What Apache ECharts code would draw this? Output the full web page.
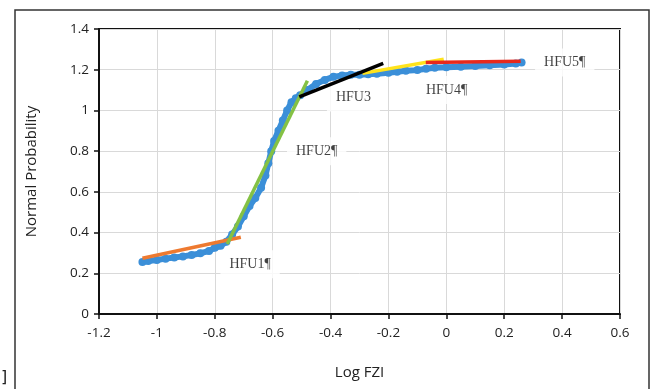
<!DOCTYPE html>
<html>
<head>
<meta charset="utf-8">
<script src="https://cdn.jsdelivr.net/npm/echarts@6/dist/echarts.min.js"></script>
<style>
  html, body { margin: 0; padding: 0; background: #fff; }
  #chart { width: 654px; height: 389px; }
</style>
</head>
<body>
<div id="chart"></div>
<script>
// measured points (Log FZI vs normal probability)
const curveX = [-1.05, -1.03, -1.0, -0.97, -0.94, -0.91, -0.88, -0.85, -0.82, -0.8, -0.78,
  -0.76, -0.74, -0.72, -0.7, -0.68, -0.66, -0.64, -0.625, -0.615, -0.605, -0.595, -0.58,
  -0.565, -0.55, -0.535, -0.52, -0.505, -0.48, -0.45, -0.42, -0.39, -0.36, -0.33, -0.3,
  -0.27, -0.24, -0.2, -0.17, -0.14, -0.1, -0.07, -0.04, 0, 0.05, 0.1, 0.15, 0.2, 0.24, 0.26];
const curveY = [0.255, 0.26, 0.265, 0.272, 0.278, 0.283, 0.29, 0.298, 0.31, 0.325, 0.335,
  0.355, 0.39, 0.43, 0.48, 0.53, 0.57, 0.62, 0.68, 0.74, 0.8, 0.85, 0.9,
  0.95, 1.0, 1.04, 1.06, 1.075, 1.1, 1.13, 1.15, 1.165, 1.172, 1.175, 1.175,
  1.178, 1.18, 1.185, 1.19, 1.195, 1.198, 1.205, 1.21, 1.212, 1.215, 1.218, 1.222, 1.226, 1.23, 1.235];

// fitted segments for each hydraulic flow unit
const fitNames = ['HFU1', 'HFU2', 'HFU3', 'HFU4', 'HFU5'];
const fitX = [[-1.05, -0.71], [-0.757, -0.48], [-0.508, -0.218], [-0.29, -0.009], [-0.071, 0.257]];
const fitY = [[0.274, 0.377], [0.344, 1.146], [1.067, 1.231], [1.182, 1.251], [1.235, 1.241]];
const fitColors = ['#ee7a30', '#84c144', '#000000', '#ffe31c', '#e8291c'];
const drawOrder = [0, 1, 3, 2, 4];

// annotations
const labelText = ['HFU1¶', 'HFU2¶', 'HFU3', 'HFU4¶', 'HFU5¶'];
const labelX = [-0.678, -0.448, -0.321, 0.001, 0.409];
const labelY = [0.245, 0.8, 1.063, 1.1, 1.236];

const xTicks = [-1.2, 0.6, 0.2];
const yTicks = [0, 1.4, 0.2];

const chart = echarts.init(document.getElementById('chart'));

const axisFont = { fontFamily: 'Open Sans', fontSize: 13.5, color: '#222' };

// labels first, so their white boxes sit under the curves but over the grid
const series = [{
  name: 'labels',
  type: 'scatter',
  symbolSize: 0,
  data: labelX.map((x, i) => ({ value: [x, labelY[i]], name: labelText[i] })),
  label: {
    show: true,
    position: 'inside',
    formatter: p => p.name,
    fontFamily: 'Liberation Serif',
    fontSize: 14,
    color: '#111',
    backgroundColor: '#fff',
    padding: [7, 9]
  },
  z: 1,
  silent: true
}, {
  name: 'data',
  type: 'line',
  data: curveX.map((x, i) => [x, curveY[i]]),
  symbol: 'circle',
  symbolSize: 8,
  showSymbol: true,
  lineStyle: { color: '#3b8fd8', width: 6 },
  itemStyle: { color: '#3b8fd8' },
  z: 2,
  silent: true
}];

drawOrder.forEach((i, k) => {
  series.push({
    name: fitNames[i],
    type: 'line',
    data: fitX[i].map((x, j) => [x, fitY[i][j]]),
    showSymbol: false,
    lineStyle: { color: fitColors[i], width: 3.5 },
    z: 3 + k,
    silent: true
  });
});

chart.setOption({
  animation: false,
  backgroundColor: '#fff',
  grid: {
    left: 99, right: 34, top: 29, bottom: 75,
    show: true, borderColor: '#111', borderWidth: 2
  },
  xAxis: {
    type: 'value',
    min: xTicks[0], max: xTicks[1], interval: xTicks[2],
    name: 'Log FZI',
    nameLocation: 'middle',
    nameGap: 51,
    nameTextStyle: { fontFamily: 'Open Sans', fontSize: 15, color: '#222' },
    axisLine: { show: true, onZero: false, lineStyle: { color: '#111', width: 2 } },
    axisTick: { show: true, length: 5, lineStyle: { color: '#111', width: 1.5 } },
    axisLabel: Object.assign({ margin: 12 }, axisFont),
    splitLine: { show: true, lineStyle: { color: '#d9d9d9', width: 1 } }
  },
  yAxis: {
    type: 'value',
    min: yTicks[0], max: yTicks[1], interval: yTicks[2],
    name: 'Normal Probability',
    nameLocation: 'middle',
    nameGap: 60,
    nameTextStyle: { fontFamily: 'Open Sans', fontSize: 15, color: '#222' },
    axisLine: { show: true, onZero: false, lineStyle: { color: '#111', width: 2 } },
    axisTick: { show: true, length: 5, lineStyle: { color: '#111', width: 1.5 } },
    axisLabel: Object.assign({ margin: 10, formatter: v => String(+v.toFixed(1)) }, axisFont),
    splitLine: { show: true, lineStyle: { color: '#d9d9d9', width: 1 } }
  },
  graphic: [
    {
      type: 'rect',
      shape: { x: 15, y: 10, width: 634, height: 400 },
      style: { fill: null, stroke: '#333', lineWidth: 1.5 },
      silent: true
    },
    {
      type: 'text',
      left: 1, top: 370,
      style: { text: ']', fontFamily: 'DejaVu Sans', fontSize: 16, fill: '#222' },
      silent: true
    }
  ],
  series: series
});
</script>
</body>
</html>
